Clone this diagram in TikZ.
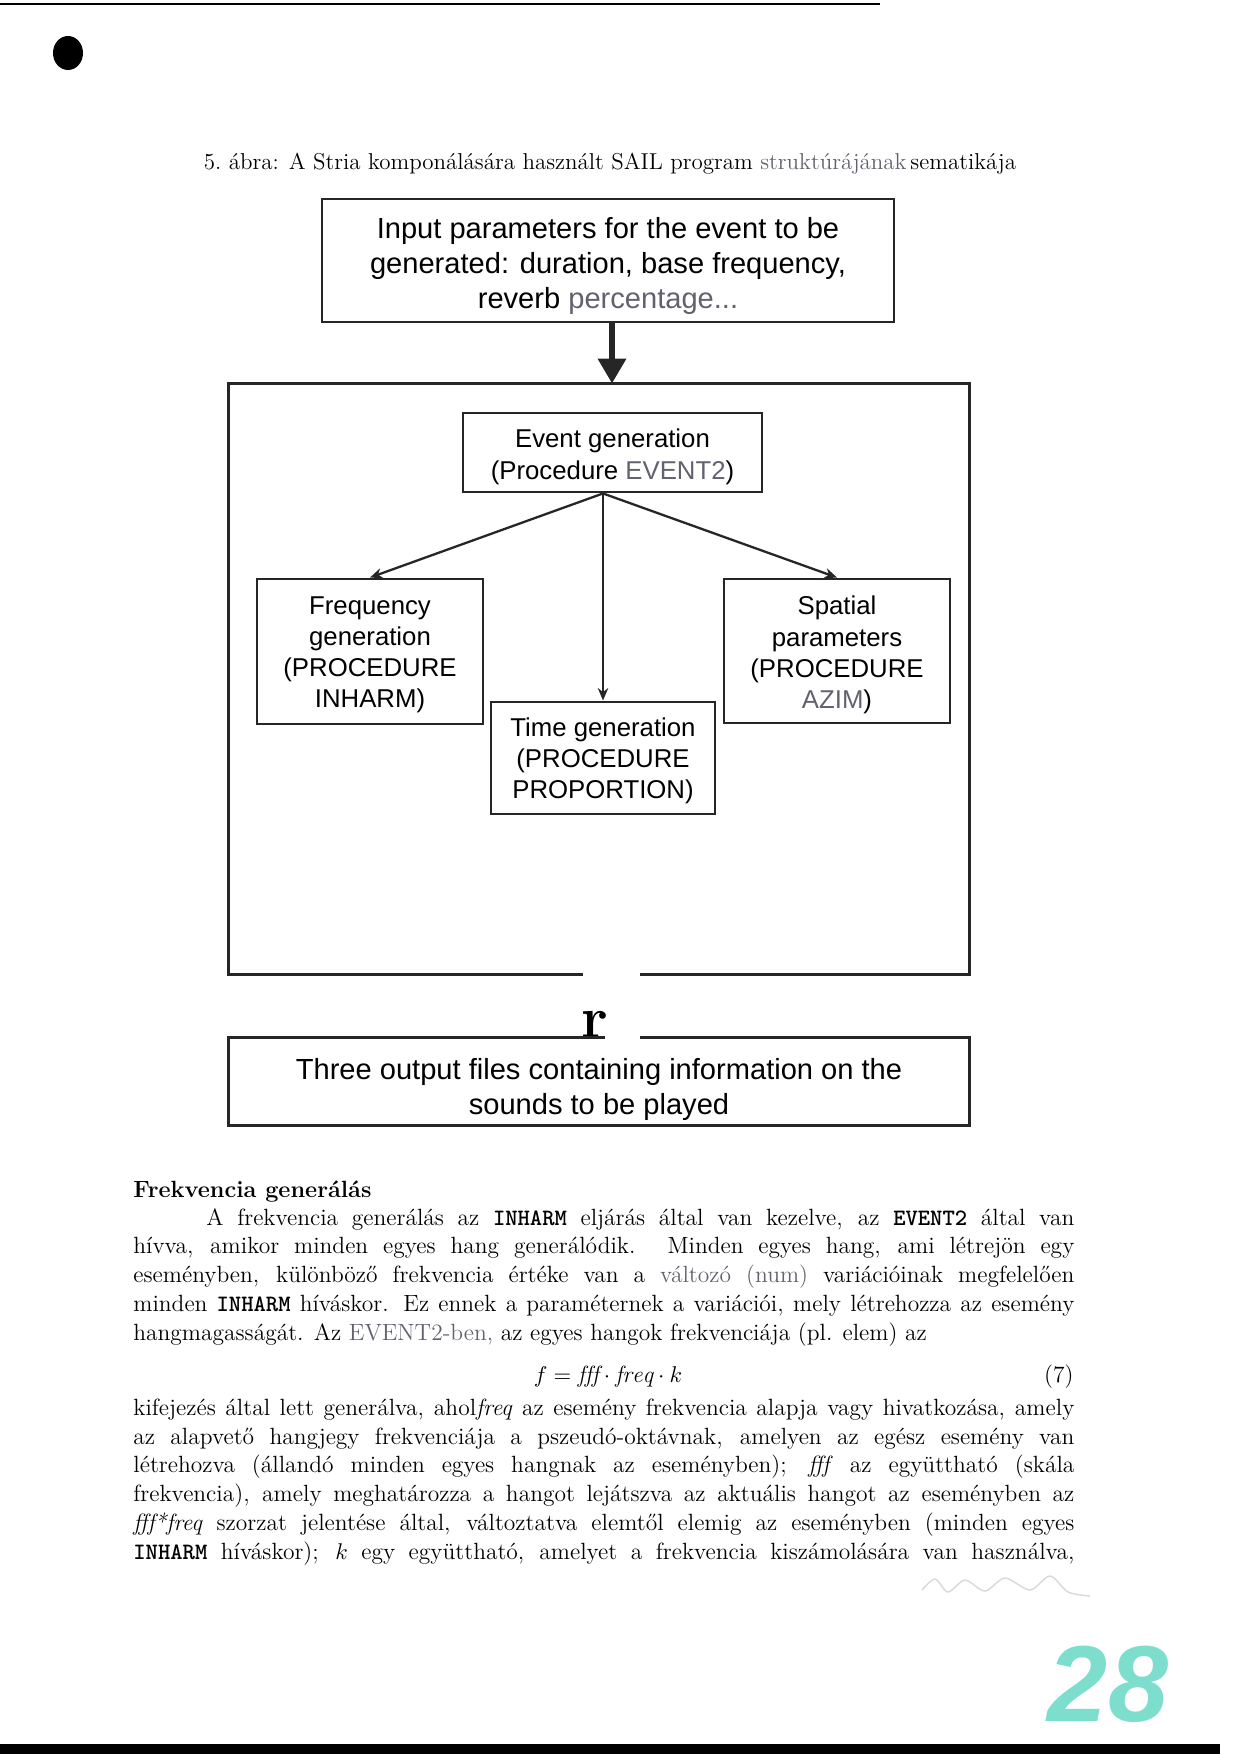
\documentclass[tikz,border=0pt]{standalone}
\usepackage{fontspec}
\newfontfamily\arialfont{Liberation Sans}
\usepackage{tikz}
\usetikzlibrary{arrows.meta}
\definecolor{scangray}{RGB}{100,96,110}
\definecolor{inkcyan}{RGB}{125,222,205}
\newcommand{\prog}[1]{\texttt{\textbf{#1}}}
\newcommand{\px}{0.4795bp}

\tikzset{
  boxline/.style={line width=1.4bp, draw=black!85},
  inbox/.style={boxline, draw, inner sep=0pt},
  bigtxt/.style={align=center, inner sep=0pt, font=\arialfont\fontsize{14}{17}\selectfont},
  proctxt/.style={align=center, inner sep=0pt, font=\arialfont\fontsize{12.4}{15}\selectfont},
  flow/.style={-{Stealth[length=6bp,width=5bp]}, line width=1.1bp, black!85},
  bigflow/.style={-{Triangle[length=12bp,width=13bp]}, line width=3bp, black!85},
  bodytext/.style={inner sep=0pt, font=\fontsize{11.3}{13.95}\selectfont},
}

\begin{document}
\begin{tikzpicture}[x=\px, y=-\px]
    \useasboundingbox (0,0) rectangle (1241,1754);
    % page marks
    \draw[line width=1.2bp] (0,4) -- (880,4);
    \fill (68,53) ellipse [x radius=15, y radius=17];
    \fill (0,1744) rectangle (1220,1754);

    \node (cap) at (610,170) [anchor=base, inner sep=0pt, font=\fontsize{11.05}{14}\selectfont] {5.~ábra: A Stria komponálására használt SAIL program {\color{scangray}struktúrájának}\,sematikája};

    % flowchart
    \node (input) [inbox, minimum width=572*\px, minimum height=123*\px,
        label={[bigtxt, yshift=-2.7bp]center:{Input parameters for the event to be\\ generated: duration, base frequency,\\ reverb {\color{scangray}percentage...}}}] at (608,260.5) {};
    \node (frame) [minimum width=740*\px, minimum height=590*\px] at (599,679) {};
    \node (ev) [inbox, minimum width=299*\px, minimum height=79*\px,
        label={[proctxt, yshift=-2.1bp]center:{Event generation\\ (Procedure {\color{scangray}EVENT2})}}] at (612.5,452.5) {};
    \node (freq) [inbox, minimum width=226*\px, minimum height=145*\px,
        label={[proctxt, yshift=-1.6bp]center:{Frequency\\ generation\\ (PROCEDURE\\ INHARM)}}] at (370,651.5) {};
    \node (tm) [inbox, minimum width=224*\px, minimum height=112*\px,
        label={[proctxt, yshift=-1.3bp]center:{Time generation\\ (PROCEDURE\\ PROPORTION)}}] at (603,758) {};
    \node (sp) [inbox, minimum width=226*\px, minimum height=144*\px,
        label={[proctxt, yshift=-1.9bp]center:{Spatial\\ parameters\\ (PROCEDURE\\ {\color{scangray}AZIM})}}] at (837,651) {};
    \node (out) [minimum width=740*\px, minimum height=87*\px,
        label={[bigtxt, yshift=-3.8bp]center:{Three output files containing information on the\\ sounds to be played}}] at (599,1081.5) {};
    \node (brk) at (595,1037) [anchor=base, inner sep=0pt, font=\fontsize{28}{28}\selectfont\bfseries] {r};
    \coordinate (fork) at (ev.south -| tm.north);

    \draw[boxline] ([shift={(41,0)}]frame.south) -- (frame.south east) |- (frame.north west) |- ([shift={(-16,0)}]frame.south);
    \draw[boxline] ([shift={(41,0)}]out.north) -- (out.north east) |- (out.south west) |- ([shift={(6,0)}]out.north);

    \draw[bigflow] ([shift={(4,0)}]input.south) -- ([shift={(4,0)}]input.south |- frame.north);
    \path (fork) [flow]
        edge (freq.north)
        edge (tm.north)
        edge (sp.north);

    % text below
    \node (head) at (133,1197) [anchor=base west, bodytext, font=\fontsize{11.3}{13.95}\selectfont\bfseries] {Frekvencia generálás};
    \node (par1) at (133,1225) [anchor=base west, bodytext] {\parbox[t]{451.2bp}{\hyphenpenalty=10000 \tolerance=10000 \hspace*{35bp}A frekvencia generálás az \prog{INHARM} eljárás által van kezelve, az \prog{EVENT2} által van\linebreak
        hívva, amikor minden egyes hang generálódik. Minden egyes hang, ami létrejön egy\linebreak
        eseményben, különböző frekvencia értéke van a {\color{scangray}változó (num)} variációinak megfelelően\linebreak
        minden \prog{INHARM} híváskor. Ez ennek a paraméternek a variációi, mely létrehozza az esemény\linebreak
        hangmagasságát. Az {\color{scangray}EVENT2-ben,} az egyes hangok frekvenciája (pl. elem) az}};
    \node (eq) at (608,1382) [anchor=base, bodytext] {$f = \mathit{fff}\cdot\mathit{freq}\cdot k$};
    \node (eqno) at (1074,1382) [anchor=base east, bodytext] {(7)};
    \node (par2) at (133,1415) [anchor=base west, bodytext] {\parbox[t]{451.2bp}{\hyphenpenalty=10000 \tolerance=10000 \parfillskip=0pt kifejezés által lett generálva, ahol\textit{freq} az esemény frekvencia alapja vagy hivatkozása, amely\linebreak
        az alapvető hangjegy frekvenciája a pszeudó-oktávnak, amelyen az egész esemény van\linebreak
        létrehozva (állandó minden egyes hangnak az eseményben); \textit{fff} az együttható (skála\linebreak
        frekvencia), amely meghatározza a hangot lejátszva az aktuális hangot az eseményben az\linebreak
        \textit{fff*freq} szorzat jelentése által, változtatva elemtől elemig az eseményben (minden egyes\linebreak
        \prog{INHARM} híváskor); $k$ egy együttható, amelyet a frekvencia kiszámolására van használva,}};

    % handwriting
    \draw[black!15, line width=0.7bp] plot[smooth] coordinates {(922,1590) (935,1579) (948,1592) (965,1580) (985,1591) (1005,1578) (1030,1590) (1050,1576) (1068,1592) (1090,1596)};
    \node (pg) at (1108,1684) [inkcyan, font=\arialfont\fontsize{52}{52}\selectfont\bfseries\itshape] {28};
\end{tikzpicture}
\end{document}
